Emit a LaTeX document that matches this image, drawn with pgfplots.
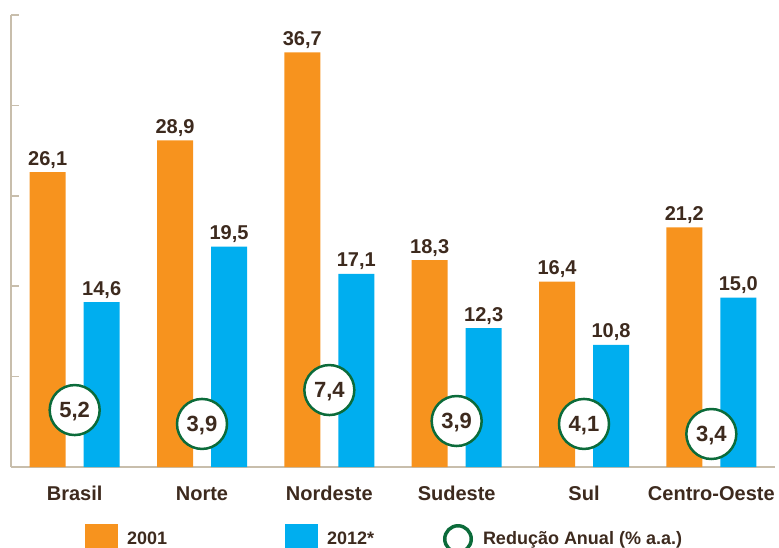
\documentclass[border=0pt]{standalone}
\usepackage{fontspec}
\setmainfont{Liberation Sans}
\usepackage{pgfplots}
\pgfplotsset{compat=1.18}
\definecolor{cor}{HTML}{F7931E}
\definecolor{cbl}{HTML}{00AEEF}
\definecolor{cgr}{HTML}{0B6B3A}
\definecolor{ctx}{HTML}{3D2A1E}
\definecolor{cax}{HTML}{C8BEAC}
\begin{document}
\begin{tikzpicture}
\begin{axis}[
  at={(11pt,80pt)}, anchor=south west,
  scale only axis, width=764pt, height=452pt,
  xmin=-0.5, xmax=5.5, ymin=0, ymax=40,
  clip=false,
  axis lines=left,
  axis line style={-, draw=cax, line width=1.6pt},
  xtick={0,...,5},
  xticklabels={Brasil,Norte,Nordeste,Sudeste,Sul,Centro-Oeste},
  x tick style={draw=none},
  xticklabel style={anchor=base, yshift=-33pt, font=\bfseries\fontsize{20}{24}\selectfont, text=ctx},
  extra x ticks={0.5,1.5,2.5,3.5,4.5,5.5},
  extra x tick labels={},
  extra x tick style={major tick length=12pt, tick style={draw=cax, line width=1.6pt}},
  ytick={0,8,...,40},
  yticklabels={},
  y tick style={draw=cax, line width=1.6pt},
  major tick length=8pt,
  tick align=inside,
  legend columns=3,
  legend style={at={(0.09686,-0.1593)}, anchor=west, draw=none, fill=none, inner sep=0pt, outer sep=0pt,
    font=\bfseries\fontsize{18}{21}\selectfont, text=ctx,
    /tikz/column sep=0pt, nodes={inner sep=0pt, outer sep=0pt}},
]
\addplot[ybar, bar width=36pt, bar shift=-27pt, fill=cor, draw=none,
  nodes near coords, point meta=explicit symbolic,
  every node near coord/.append style={anchor=base, xshift=-27pt, yshift=7pt, inner sep=0pt, font=\bfseries\fontsize{20}{24}\selectfont, text=ctx},
  legend image code/.code={\fill[cor, draw=none] (0pt,-15pt) rectangle (33pt,15pt);}]
  coordinates {(0,26.1) [{26,1}] (1,28.9) [{28,9}] (2,36.7) [{36,7}] (3,18.3) [{18,3}] (4,16.4) [{16,4}] (5,21.2) [{21,2}]};
\addlegendentry{\hspace*{9pt}\makebox[158pt][l]{2001}}
\addplot[ybar, bar width=36pt, bar shift=27pt, fill=cbl, draw=none,
  nodes near coords, point meta=explicit symbolic,
  every node near coord/.append style={anchor=base, xshift=27pt, yshift=7pt, inner sep=0pt, font=\bfseries\fontsize{20}{24}\selectfont, text=ctx},
  legend image code/.code={\fill[cbl, draw=none] (0pt,-15pt) rectangle (33pt,15pt);}]
  coordinates {(0,14.6) [{14,6}] (1,19.5) [{19,5}] (2,17.1) [{17,1}] (3,12.3) [{12,3}] (4,10.8) [{10,8}] (5,15.0) [{15,0}]};
\addlegendentry{\hspace*{9pt}\makebox[116pt][l]{2012*}}
\addplot[only marks, mark=*, mark size=25pt,
  mark options={draw=cgr, fill=white, line width=2.5pt},
  nodes near coords, point meta=explicit symbolic,
  every node near coord/.append style={anchor=center, inner sep=0pt, text depth=0pt, font=\bfseries\fontsize{22}{24}\selectfont, text=ctx},
  legend image code/.code={\path[draw=none, fill=none] (0pt,-15pt) rectangle (30pt,15pt); \draw[cgr, line width=3.5pt, fill=white] (15pt,0pt) circle (13.25pt);}]
  coordinates {(0,5.04) [{5,2}] (1,3.81) [{3,9}] (2,6.81) [{7,4}] (3,4.07) [{3,9}] (4,3.81) [{4,1}] (5,2.92) [{3,4}]};
\addlegendentry{\hspace*{10pt}Redução Anual (\% a.a.)}
\end{axis}
\pgfresetboundingbox
\path[use as bounding box] (0,0) rectangle (779pt,547pt);
\end{tikzpicture}
\end{document}
